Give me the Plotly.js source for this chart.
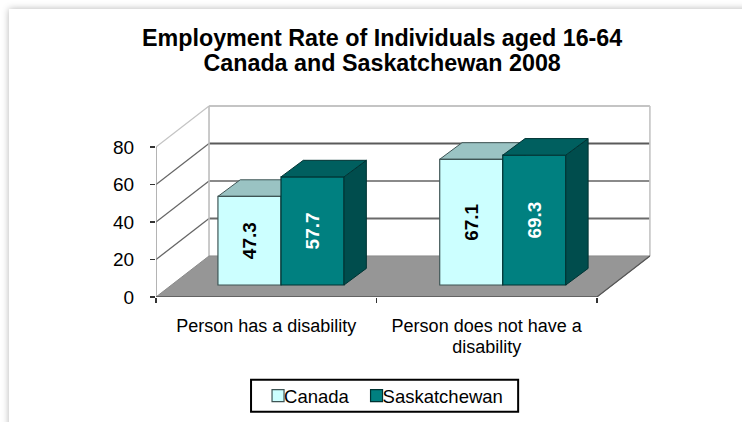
<!DOCTYPE html>
<html>
<head>
<meta charset="utf-8">
<script src="https://cdn.plot.ly/plotly-3.0.1.min.js"></script>
<style>
html,body{margin:0;padding:0;width:742px;height:422px;overflow:hidden;background:#fff}
#card{position:absolute;left:9px;top:9px;width:800px;height:480px;background:#fff;box-shadow:0 0 7px #b5b5b5}
#chart{position:absolute;left:0;top:0;width:742px;height:422px}
</style>
</head>
<body>
<div id="card"></div>
<div id="chart"></div>
<script>
const titleLines = ["Employment Rate of Individuals aged 16-64", "Canada and Saskatchewan 2008"];
const categories = ["Person has a disability", "Person does not have a<br>disability"];
const canada = [47.3, 67.1];
const saskatchewan = [57.7, 69.3];
const yTicks = [0, 20, 40, 60, 80];

// 3-D look: depth of the chart box and of the bars, in axis units
const wallDx = 0.2405, wallDy = 21.9, barDx = 0.1012, barDy = 8.85;
const barWidth = 0.286, barBase = 6.4, barCentres = [0.567, 1.573];
const xMax = 2, xRange = [0, 2.25], yRange = [0, 103];
const gridColours = {0:"#8a8a8a", 20:"#6a6a6a", 40:"#8a8a8a", 60:"#5a5a5a", 80:"#c4c4c4"};
const col = {
  canada:{front:"#CCFFFF", top:"#9AC3C3", side:"#7FA8A8", line:"#3f5555"},
  sask:{front:"#008080", top:"#005F5F", side:"#004D4D", line:"#003333"}
};

function poly(xs, ys, fill, line, onTop){
  return {type:"scatter", mode:"lines", x:xs.concat(xs[0]), y:ys.concat(ys[0]), fill:"toself",
    fillcolor:fill, line:{color:line, width:1}, hoverinfo:"skip", showlegend:false, cliponaxis:false,
    xaxis:onTop?"x2":"x", yaxis:onTop?"y2":"y"};
}
function seg(xs, ys, color, width){
  return {type:"scatter", mode:"lines", x:xs, y:ys, line:{color:color, width:width||1.5},
    hoverinfo:"skip", showlegend:false, cliponaxis:false};
}
function topFace(x0, x1, v, c, onTop){
  const y = barBase + v;
  return poly([x0, x1, x1+barDx, x0+barDx], [y, y, y+barDy, y+barDy], c.top, c.line, onTop);
}
function sideFace(x1, v, c, onTop){
  const y = barBase + v;
  return poly([x1, x1+barDx, x1+barDx, x1], [barBase, barBase+barDy, y+barDy, y], c.side, c.line, onTop);
}

const traces = [];
// back wall, left wall
yTicks.slice(1).forEach(t => {
  traces.push(seg([wallDx, xMax+wallDx], [t+wallDy, t+wallDy], gridColours[t], 2));
  traces.push(seg([0, wallDx], [t, t+wallDy], t===80?"#c4c4c4":"#666666", 1.3));
});
traces.push(seg([wallDx, wallDx], [wallDy, 80+wallDy], "#bdbdbd", 1.6));
traces.push(seg([xMax+wallDx, xMax+wallDx], [wallDy, 80+wallDy], "#c4c4c4", 1.6));
traces.push(seg([0, 0], [0, 80], "#8c8c8c", 1.3));
// floor
traces.push(poly([0, xMax, xMax+wallDx, wallDx], [0, 0, wallDy, wallDy], "#969696", "#8a8a8a"));
traces.push(seg([0, xMax], [0, 0], "#555555", 1.6));
traces.push(seg([xMax, xMax+wallDx], [0, wallDy], "#555555", 1.2));

// Canada depth faces sit behind the front faces
barCentres.forEach((c, i) => {
  traces.push(sideFace(c, canada[i], col.canada));
  traces.push(topFace(c-barWidth, c, canada[i], col.canada));
});

// front faces
traces.push({type:"bar", name:"Canada", x:barCentres, y:canada, base:barBase, width:barWidth, offset:-barWidth,
  xaxis:"x2", yaxis:"y2", marker:{color:col.canada.front, line:{color:col.canada.line, width:1.2}},
  text:canada.map(v=>v.toFixed(1)), textposition:"inside", insidetextanchor:"middle", textangle:-90, constraintext:"none",
  textfont:{family:"Liberation Sans", size:19, color:"#000", weight:"bold"}, hoverinfo:"name+y"});
traces.push({type:"bar", name:"Saskatchewan", x:barCentres, y:saskatchewan, base:barBase, width:barWidth, offset:0,
  xaxis:"x2", yaxis:"y2", marker:{color:col.sask.front, line:{color:col.sask.line, width:1.2}},
  text:saskatchewan.map(v=>v.toFixed(1)), textposition:"inside", insidetextanchor:"middle", textangle:-90, constraintext:"none",
  textfont:{family:"Liberation Sans", size:19, color:"#fff", weight:"bold"}, hoverinfo:"name+y"});

// Saskatchewan depth faces
barCentres.forEach((c, i) => {
  traces.push(sideFace(c+barWidth, saskatchewan[i], col.sask, true));
  traces.push(topFace(c, c+barWidth, saskatchewan[i], col.sask, true));
});

const layout = {
  width:742, height:422,
  margin:{l:156, r:90.2, t:104.2, b:124.7, pad:0, autoexpand:false},
  paper_bgcolor:"rgba(0,0,0,0)", plot_bgcolor:"rgba(0,0,0,0)",
  font:{family:"Liberation Sans", color:"#000"},
  title:{text:titleLines.join("<br>"), x:0.515, xanchor:"center", y:0.89, yanchor:"top", automargin:false,
    font:{family:"Liberation Sans", size:23.3, color:"#000", weight:"bold"}},
  xaxis:{range:xRange, tickmode:"array", tickvals:[0.5, 1.5], ticktext:categories, ticks:"", ticklabelstandoff:16,
    tickfont:{size:18, family:"Liberation Sans"}, showgrid:false, zeroline:false, showline:false, fixedrange:true},
  yaxis:{range:yRange, tickmode:"array", tickvals:yTicks, ticks:"outside", ticklen:5, tickcolor:"#333", tickwidth:1.3,
    ticklabelstandoff:12, tickfont:{size:19, family:"Liberation Sans"}, showgrid:false, zeroline:false, showline:false, fixedrange:true},
  xaxis2:{range:xRange, overlaying:"x", anchor:"y2", tickmode:"array", tickvals:[0, 1, 2], ticks:"outside", ticklen:5,
    tickcolor:"#333", tickwidth:1.3, showticklabels:false, showgrid:false, zeroline:false, showline:false, fixedrange:true},
  yaxis2:{range:yRange, overlaying:"y", anchor:"x2", showticklabels:false, ticks:"", showgrid:false, zeroline:false,
    showline:false, fixedrange:true},
  showlegend:true,
  legend:{orientation:"h", x:(244-156)/495.8, xanchor:"left", y:-(377.5-297.3)/193.1, yanchor:"top",
    font:{size:18.5, family:"Liberation Sans"}, bgcolor:"rgba(0,0,0,0)", borderwidth:0, traceorder:"normal"},
  shapes:[{type:"rect", xref:"paper", yref:"paper", x0:(251-156)/495.8, x1:(518-156)/495.8,
    y0:-(412-297.3)/193.1, y1:-(380-297.3)/193.1, line:{color:"#000", width:2}, fillcolor:"#fff", layer:"below"}],
  bargap:0
};

Plotly.newPlot("chart", traces, layout, {displayModeBar:false, staticPlot:true}).then(gd => {
  // tighten legend and multi-line text spacing the way the reference has it
  gd.querySelectorAll(".legend .legendsymbols .legendpoints").forEach(n => {
    n.setAttribute("transform", "translate(14,0)");
  });
  const entries = gd.querySelectorAll(".legend .traces");
  if (entries[1]) {
    const m = /translate\(([-\d.]+)[ ,]+([-\d.]+)\)/.exec(entries[1].getAttribute("transform") || "");
    if (m) entries[1].setAttribute("transform", "translate(" + (parseFloat(m[1]) - 12) + "," + m[2] + ")");
  }
  gd.querySelectorAll(".gtitle tspan.line").forEach((n, i) => { if (i > 0) n.setAttribute("dy", "1.07em"); });
  gd.querySelectorAll(".xtick text tspan.line").forEach((n, i) => { if (i > 0) n.setAttribute("dy", "1.17em"); });
});
</script>
</body>
</html>
